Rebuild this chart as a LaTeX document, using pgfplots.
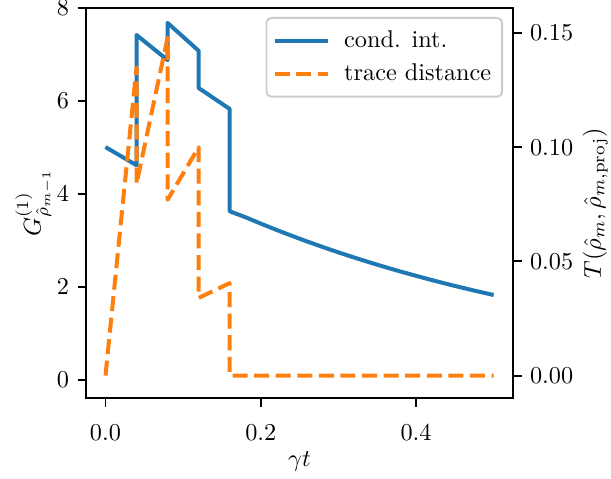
\documentclass[border=0pt]{standalone}
\usepackage{pgfplots}
\pgfplotsset{compat=1.18}
\definecolor{tabblue}{HTML}{1F77B4}
\definecolor{taborange}{HTML}{FF7F0E}

\begin{document}
\begin{tikzpicture}
\pgfplotsset{
  every axis/.append style={
    scale only axis, width=176.1pt, height=160.9pt,
    xmin=-0.025, xmax=0.525,
    tick align=outside, major tick length=3.5pt,
    every tick/.style={black, line width=0.8pt},
    axis line style={line width=0.8pt},
  },
}
% left axis: conditional intensity
\begin{axis}[
  ymin=-0.387, ymax=8,
  xtick={0,0.2,0.4}, ytick={0,2,4,6,8},
  xtick pos=lower, ytick pos=left,
  xticklabel style={/pgf/number format/.cd, fixed, fixed zerofill, precision=1},
  xticklabel shift=4pt,
  xlabel shift=-2.5pt,
  ylabel shift=-5pt,
  xlabel={$\gamma t$},
  ylabel={$G^{(1)}_{\hat{\rho}_{m-1}}$},
]
\addplot[tabblue, line width=1.65pt, line join=round] coordinates {
  (0.00,5.01) (0.04,4.62) (0.04,7.42) (0.08,6.88) (0.08,7.68)
  (0.12,7.08) (0.12,6.28) (0.16,5.83) (0.16,3.63)
  (0.18,3.505) (0.20,3.365) (0.22,3.231) (0.24,3.103) (0.26,2.979)
  (0.28,2.861) (0.30,2.747) (0.32,2.638) (0.34,2.533) (0.36,2.432)
  (0.38,2.335) (0.40,2.243) (0.42,2.153) (0.44,2.067) (0.46,1.985)
  (0.48,1.906) (0.50,1.830)
};
\coordinate (bl) at (rel axis cs:0,0);
\coordinate (tr) at (rel axis cs:1,1);
\end{axis}
% right axis: trace distance
\begin{axis}[
  hide x axis,
  axis y line*=right,
  ymin=-0.0099, ymax=0.161,
  ytick={0,0.05,0.10,0.15},
  scaled y ticks=false,
  yticklabel style={/pgf/number format/.cd, fixed, fixed zerofill, precision=2},
  ylabel shift=-3pt,
  ylabel={$T(\hat{\rho}_m,\hat{\rho}_{m,\mathrm{proj}})$},
  legend cell align=left,
  legend style={at={(1,1)}, anchor=north east, xshift=-4.1pt, yshift=-3.7pt,
    draw=black!20, line width=0.8pt, rounded corners=2pt,
    inner xsep=2.5pt, inner ysep=3.3pt, row sep=1pt,
    /tikz/every odd column/.style={column sep=4pt}},
  legend image code/.code={\draw[#1] (0cm,0cm) -- (21.9pt,0cm);},
]
\addlegendimage{tabblue, line width=1.65pt}
\addlegendentry{cond. int.}
\addplot[taborange, line width=1.65pt, dash pattern=on 6.2pt off 2.7pt, line join=round] coordinates {
  (0.00,0.000) (0.04,0.135) (0.04,0.084) (0.08,0.148) (0.08,0.077)
  (0.12,0.100) (0.12,0.034) (0.16,0.0405) (0.16,0.000) (0.50,0.000)
};
\addlegendentry{trace distance}
\end{axis}
\pgfresetboundingbox
\path ([shift={(-35.5pt,-33pt)}]bl) rectangle ([shift={(40.4pt,3.3pt)}]tr);
\end{tikzpicture}
\end{document}
